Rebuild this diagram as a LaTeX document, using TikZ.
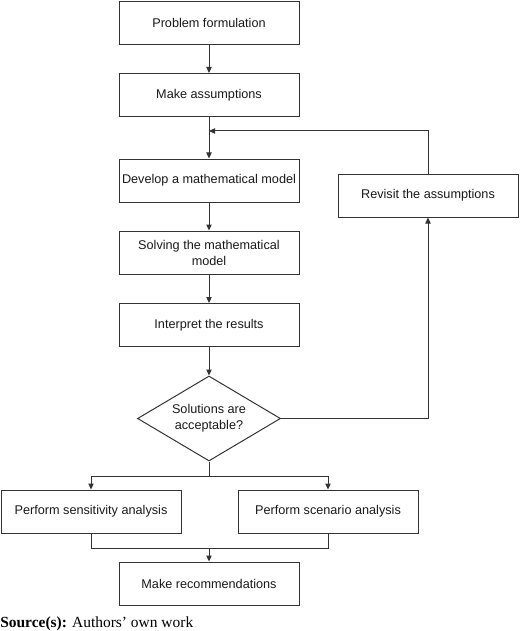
\documentclass[tikz,border=0pt]{standalone}
\usepackage{fontspec}
\setmainfont{Liberation Serif}
\newfontfamily\boxfont{Liberation Sans}
\usetikzlibrary{shapes.geometric,arrows.meta}
\tikzset{
  px/.style={x=0.75pt,y=-0.75pt},
  box/.style={draw=black!80,line width=0.75pt,rectangle,minimum width=135pt,minimum height=32.25pt,inner sep=0pt,align=center,font=\boxfont\fontsize{9.5pt}{12pt}\selectfont,text=black!90},
  dec/.style={draw=black!80,line width=0.75pt,diamond,aspect=1.68,minimum width=107.25pt,minimum height=63.75pt,inner sep=0pt,align=center,font=\boxfont\fontsize{9.5pt}{12pt}\selectfont,text=black!90},
  conn/.style={draw=black!80,line width=0.75pt},
  arr/.style={conn,-{Triangle[length=4.5pt,width=4pt]}}
}
\begin{document}
\begin{tikzpicture}[px]
\useasboundingbox (0,0) rectangle (520,631);
\node[box] (pf) at (209,23) {Problem formulation};
\node[box] (ma) at (209,95) {Make assumptions};
\node[box] (dev) at (209,180.5) {Develop a mathematical model};
\node[box] (sol) at (209,252.5) {Solving the mathematical\\model};
\node[box] (int) at (209,325) {Interpret the results};
\node[box] (rev) at (428,195.5) {Revisit the assumptions};
\node[dec] (dia) at (209,418.5) {Solutions are\\acceptable?};
\node[box] (sen) at (91,511.5) {Perform sensitivity analysis};
\node[box] (sce) at (328,511.5) {Perform scenario analysis};
\node[box] (rec) at (209,583.5) {Make recommendations};
\node[anchor=base west,inner sep=0pt,font=\fontsize{11.6pt}{13pt}\selectfont] (src) at (0,627) {\textbf{Source(s):} Authors’ own work};
\coordinate (J) at (209,131);
\coordinate (S) at (209,476);
\coordinate (M) at (209,548);
\draw[arr] (pf.south) -- (ma.north);
\draw[arr] (ma.south) -- (dev.north);
\draw[arr] (rev.north) |- (J);
\draw[arr] (dev.south) -- (sol.north);
\draw[arr] (sol.south) -- (int.north);
\draw[arr] (int.south) -- (dia.north);
\draw[arr] (dia.east) -| (rev.south);
\draw[conn] (dia.south) -- (S);
\draw[arr] (S) -| (sen.north);
\draw[arr] (S) -| (sce.north);
\draw[conn] (sen.south) |- (M);
\draw[conn] (sce.south) |- (M);
\draw[arr] (M) -- (rec.north);
\end{tikzpicture}
\end{document}
